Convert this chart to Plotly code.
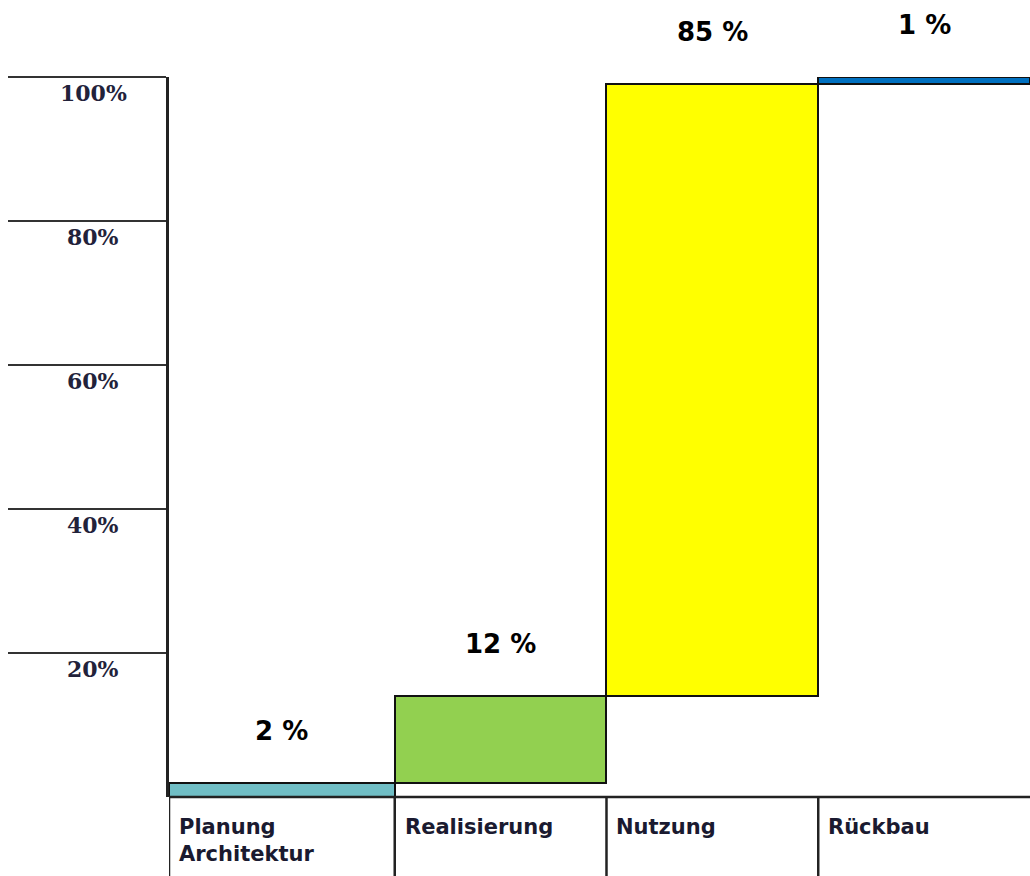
import plotly.graph_objects as go

# Lebenszyklus-Phasen und ihr Anteil (in %)
phases = ["Planung<br>Architektur", "Realisierung", "Nutzung", "Rückbau"]
shares = [2, 12, 85, 1]
colors = ["#70BEC5", "#92D050", "#FFFF00", "#0070C0"]

# Y-Achsen-Ticks
tick_values = [20, 40, 60, 80, 100]
tick_labels = ["20%", "40%", "60%", "80%", "100%"]

# Spaltenbreiten (erste Spalte etwas breiter)
col_widths = [1.066, 1.0, 1.0, 1.0]

W, H = 1030, 876
AXIS_LEFT_PX = 169
Y_BOTTOM = (H - 797) / H
Y_TOP = (H - 77) / H

# kumulierte Basis der Wasserfall-Balken
bases = []
acc = 0
for v in shares:
    bases.append(acc)
    acc += v

edges = []
e = 0
for w in col_widths:
    edges.append(e)
    e += w
centers = [edges[i] + col_widths[i] / 2 for i in range(len(col_widths))]
x_total = sum(col_widths)

fig = go.Figure()
fig.add_trace(go.Bar(
    x=centers,
    y=shares,
    base=bases,
    width=col_widths,
    marker=dict(color=colors, line=dict(color="#111111", width=2)),
    cliponaxis=False,
    hoverinfo="skip",
))

annotations = []
# Wertebeschriftungen über den Balken
for c, b, v in zip(centers, bases, shares):
    annotations.append(dict(
        x=c, y=b + v, xref="x", yref="y",
        text=f"<b>{v} %</b>", showarrow=False,
        yanchor="middle", yshift=52,
        font=dict(family="DejaVu Sans", size=26, color="#000000"),
    ))

# Tick-Beschriftungen unterhalb der Tick-Linien
for tv, tl in zip(tick_values, tick_labels):
    annotations.append(dict(
        x=93 / W, y=tv, xref="paper", yref="y",
        text=f"<b>{tl}</b>", showarrow=False,
        xanchor="center", yanchor="middle", yshift=-16,
        font=dict(family="DejaVu Serif", size=22, color="#22223a"),
    ))

# Phasennamen in der Tabelle unter dem Diagramm
for ed, name in zip(edges, phases):
    annotations.append(dict(
        x=ed, y=(H - 813) / H, xref="x", yref="paper",
        text=f"<b>{name}</b>", showarrow=False,
        xanchor="left", yanchor="top", xshift=8, align="left",
        font=dict(family="DejaVu Sans", size=21, color="#1a1a30"),
    ))

shapes = [
    # horizontale Linie der Tabelle
    dict(type="line", xref="x", yref="paper", x0=0, x1=x_total,
         y0=Y_BOTTOM, y1=Y_BOTTOM, line=dict(color="#222222", width=2.5)),
]
for ed in edges:
    shapes.append(dict(type="line", xref="x", yref="paper", x0=ed, x1=ed,
                       y0=0, y1=Y_BOTTOM, line=dict(color="#222222", width=2.5)))

fig.update_layout(
    width=W, height=H,
    margin=dict(l=0, r=0, t=0, b=0),
    paper_bgcolor="white", plot_bgcolor="white",
    showlegend=False,
    bargap=0,
    annotations=annotations,
    shapes=shapes,
    xaxis=dict(
        domain=[AXIS_LEFT_PX / W, 1], range=[0, x_total],
        showgrid=False, zeroline=False, showticklabels=False,
        showline=False, ticks="", fixedrange=True,
    ),
    yaxis=dict(
        domain=[Y_BOTTOM, Y_TOP], range=[0, 100],
        tickvals=tick_values, showticklabels=False,
        ticks="outside", ticklen=158, tickwidth=2, tickcolor="#333333",
        showline=True, linecolor="#222222", linewidth=2.5,
        showgrid=False, zeroline=False, fixedrange=True,
    ),
)

fig.write_html("out.html")
